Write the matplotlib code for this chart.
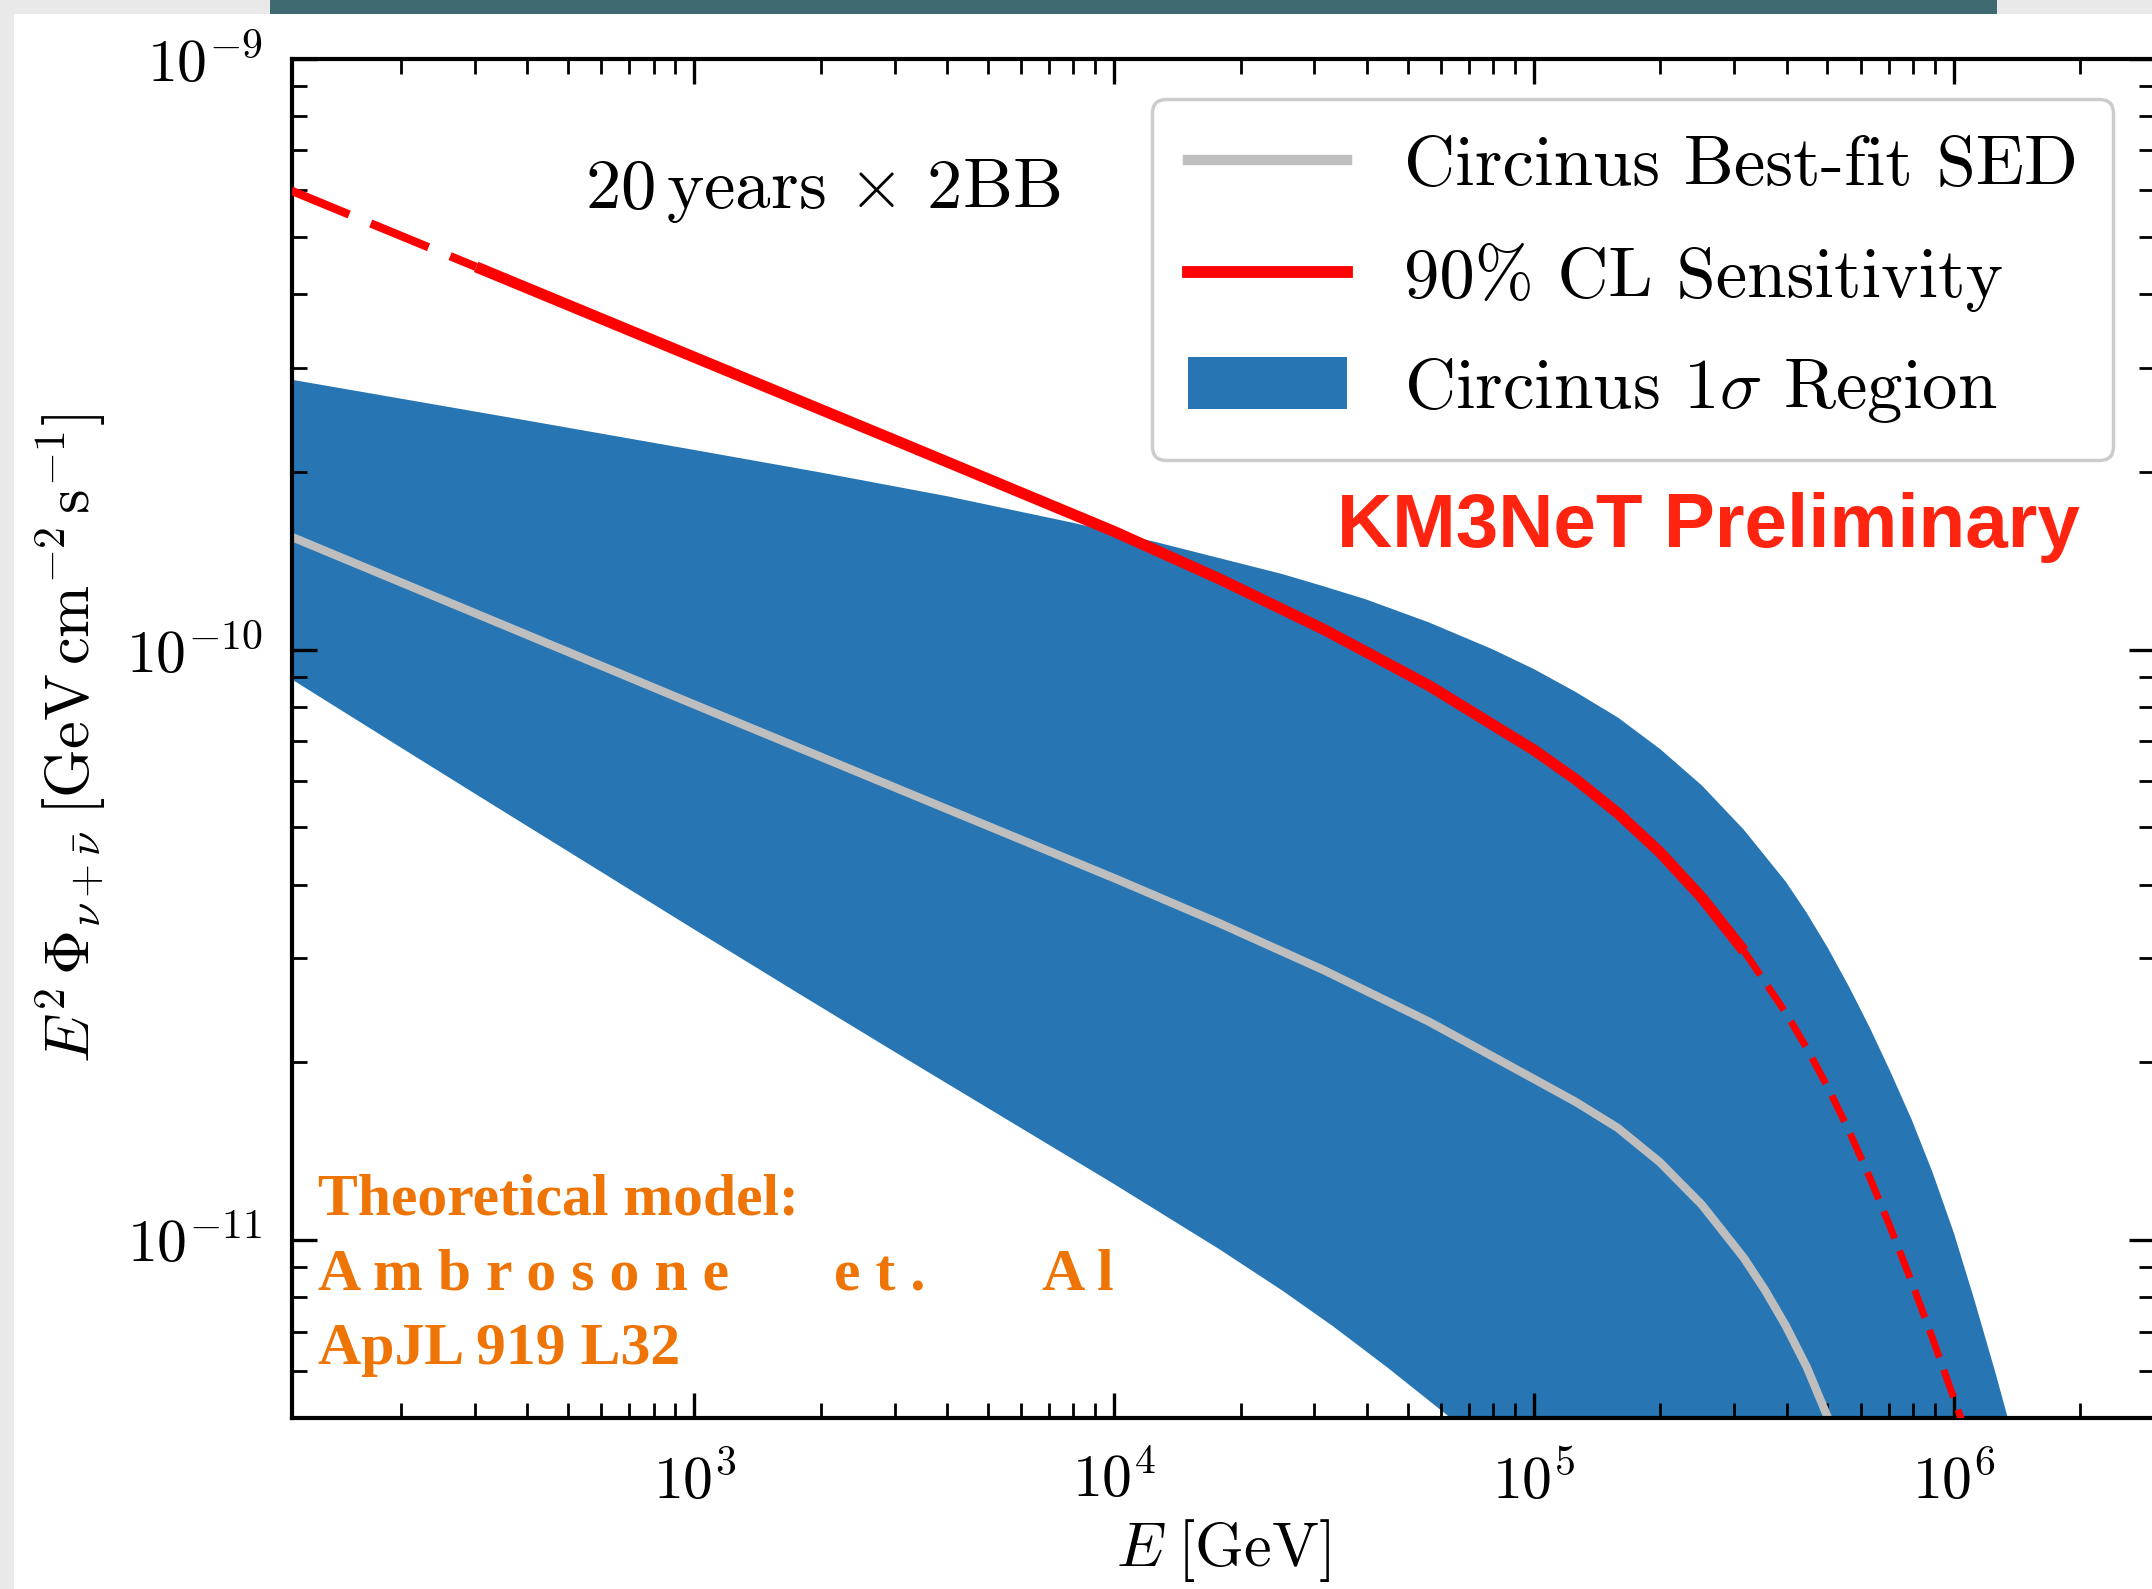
import numpy as np
import matplotlib
matplotlib.use("Agg")
import matplotlib.pyplot as plt
from matplotlib.patches import Rectangle, Patch
from matplotlib.lines import Line2D
from matplotlib.ticker import NullFormatter

plt.rcParams['mathtext.fontset'] = 'cm'
plt.rcParams['font.family'] = 'serif'
plt.rcParams['font.serif'] = ['cmr10']
plt.rcParams['axes.formatter.use_mathtext'] = True

# all values as log10(E / GeV) and log10(E^2 Phi / GeV cm^-2 s^-1)
# best-fit SED of Circinus
sed_logE = [2.04, 2.5, 3.0, 3.5, 4.0, 4.25, 4.5, 4.75, 5.0, 5.1, 5.2, 5.3, 5.4, 5.5, 5.55,
            5.6, 5.65, 5.7, 5.73]
sed_logF = [-9.809, -9.945, -10.093, -10.24, -10.387, -10.463, -10.543, -10.630, -10.727,
            -10.766, -10.810, -10.868, -10.940, -11.030, -11.084, -11.145, -11.215, -11.30,
            -11.36]

# 90% CL sensitivity (20 years, 2 building blocks)
sens_logE = [2.04, 2.48, 3.0, 3.5, 4.0, 4.25, 4.5, 4.75, 5.0, 5.1, 5.2, 5.3, 5.4, 5.5, 5.6,
             5.65, 5.7, 5.75, 5.8, 5.85, 5.9, 5.95, 6.0, 6.02, 6.05]
sens_logF = [-9.223, -9.352, -9.505, -9.652, -9.80, -9.880, -9.966, -10.061, -10.170, -10.220,
             -10.277, -10.343, -10.420, -10.510, -10.615, -10.675, -10.741, -10.814, -10.894,
             -10.980, -11.071, -11.167, -11.267, -11.307, -11.37]
# energy range where the sensitivity is drawn solid
solid_logE = (2.48, 5.5)

# 1 sigma region, upper and lower edges
band_up_logE = [2.04, 2.3, 2.6, 3.0, 3.3, 3.6, 3.9, 4.1, 4.25, 4.4, 4.5, 4.6, 4.75, 4.9, 5.0,
                5.1, 5.2, 5.3, 5.4, 5.5, 5.6, 5.65, 5.7, 5.75, 5.8, 5.85, 5.9, 5.95, 6.0,
                6.05, 6.1, 6.14, 6.17]
band_up_logF = [-9.543, -9.575, -9.612, -9.662, -9.700, -9.740, -9.785, -9.818, -9.845, -9.872,
                -9.893, -9.915, -9.954, -9.999, -10.033, -10.072, -10.115, -10.168, -10.230,
                -10.305, -10.393, -10.446, -10.505, -10.570, -10.640, -10.716, -10.796,
                -10.886, -10.987, -11.103, -11.226, -11.33, -11.42]
band_lo_logE = [2.04, 2.274, 2.5, 2.75, 3.0, 3.25, 3.5, 3.75, 4.0, 4.25, 4.4, 4.52, 4.65, 4.8,
                4.9]
band_lo_logF = [-10.05, -10.154, -10.254, -10.364, -10.474, -10.583, -10.691, -10.798, -10.905,
                -11.015, -11.085, -11.145, -11.215, -11.30, -11.36]

W, H = 2152, 1589
fig = plt.figure(figsize=(W / 100, H / 100), dpi=100)
fig.patch.set_facecolor('white')

# screenshot frame around the plot
fig.add_artist(Rectangle((0, 0), 14 / W, 1, transform=fig.transFigure,
                         color='#e9e9e9', lw=0, zorder=-5))
fig.add_artist(Rectangle((0, 1 - 14 / H), 1, 14 / H, transform=fig.transFigure,
                         color='#e9e9e9', lw=0, zorder=-5))
fig.add_artist(Rectangle((270 / W, 1 - 14 / H), (1997 - 270) / W, 14 / H,
                         transform=fig.transFigure, color='#3f6a72', lw=0, zorder=-4))

ax = fig.add_axes([292 / W, 1 - 1418 / H, 1862 / W, 1359 / H])

blue = '#2775b3'
grey = '#bebebe'
red = '#ff0000'

bx = np.concatenate([np.array(band_up_logE), np.array(band_lo_logE)[::-1]])
by = np.concatenate([np.array(band_up_logF), np.array(band_lo_logF)[::-1]])
ax.fill(10 ** bx, 10 ** by, color=blue, lw=0, zorder=1)

ax.plot(10 ** np.array(sed_logE), 10 ** np.array(sed_logF), color=grey, lw=6,
        solid_capstyle='butt', solid_joinstyle='round', zorder=2)

sE = np.array(sens_logE)
sF = np.array(sens_logF)
lo, hi = solid_logE
m_left = sE <= lo
m_mid = (sE >= lo) & (sE <= hi)
m_right = sE >= hi
ax.plot(10 ** sE[m_left], 10 ** sF[m_left], color=red, lw=6, dashes=(7.5, 2.8), zorder=3)
ax.plot(10 ** sE[m_mid], 10 ** sF[m_mid], color=red, lw=8, solid_capstyle='butt',
        solid_joinstyle='round', zorder=3)
ax.plot(10 ** sE[m_right], 10 ** sF[m_right], color=red, lw=5, dashes=(4.2, 1.9), zorder=3)

ax.set_xscale('log')
ax.set_yscale('log')
ax.set_xlim(110, 3e6)
ax.set_ylim(5e-12, 1e-9)
ax.yaxis.set_minor_formatter(NullFormatter())
ax.xaxis.set_minor_formatter(NullFormatter())

for s in ax.spines.values():
    s.set_linewidth(3)
ax.tick_params(which='both', direction='in', top=True, right=True, labelsize=43)
ax.tick_params(axis='x', pad=25)
ax.tick_params(axis='y', pad=21)
ax.tick_params(which='major', length=18, width=2.4)
ax.tick_params(which='minor', length=11, width=2.0)

ax.set_xlabel(r'$E\;[\mathrm{GeV}]$', fontsize=45, labelpad=4)
ax.set_ylabel(r'$E^2\,\Phi_{\nu+\bar{\nu}}\;[\mathrm{GeV\,cm^{-2}\,s^{-1}}]$', fontsize=45,
              labelpad=12)

ax.text(0.285, 0.903, r'$20\,\mathrm{years}\,\times\,2\mathrm{BB}$', transform=ax.transAxes,
        fontsize=51, ha='center', va='center')

handles = [Line2D([], [], color=grey, lw=7.5),
           Line2D([], [], color=red, lw=8.5),
           Patch(facecolor=blue, edgecolor='none')]
labels = ['Circinus Best-fit SED', '90% CL Sensitivity', r'Circinus 1$\sigma$ Region']
leg = ax.legend(handles, labels, loc='upper right', bbox_to_anchor=(0.978, 0.9706),
                borderaxespad=0, fontsize=51, handlelength=2.25, handleheight=0.75,
                handletextpad=0.8, labelspacing=0.62, borderpad=0.5, fancybox=True,
                framealpha=1, edgecolor='#cccccc')
leg.get_frame().set_linewidth(2.5)

ax.text(0.960, 0.655, 'KM3NeT Preliminary', transform=ax.transAxes, fontsize=55,
        fontweight='bold', family='Liberation Sans', color='#ff2410', ha='right', va='center')

orange = '#ee7406'
ref_lines = ['Theoretical model:',
             'A m b r o s o n e       e t .        A l',
             'ApJL 919 L32']
for i, line in enumerate(ref_lines):
    ax.text(0.014, 0.160 - 0.055 * i, line, transform=ax.transAxes, fontsize=43,
            fontweight='bold', family='Liberation Serif', color=orange, ha='left', va='center')

fig.savefig('out.png', dpi=100)
